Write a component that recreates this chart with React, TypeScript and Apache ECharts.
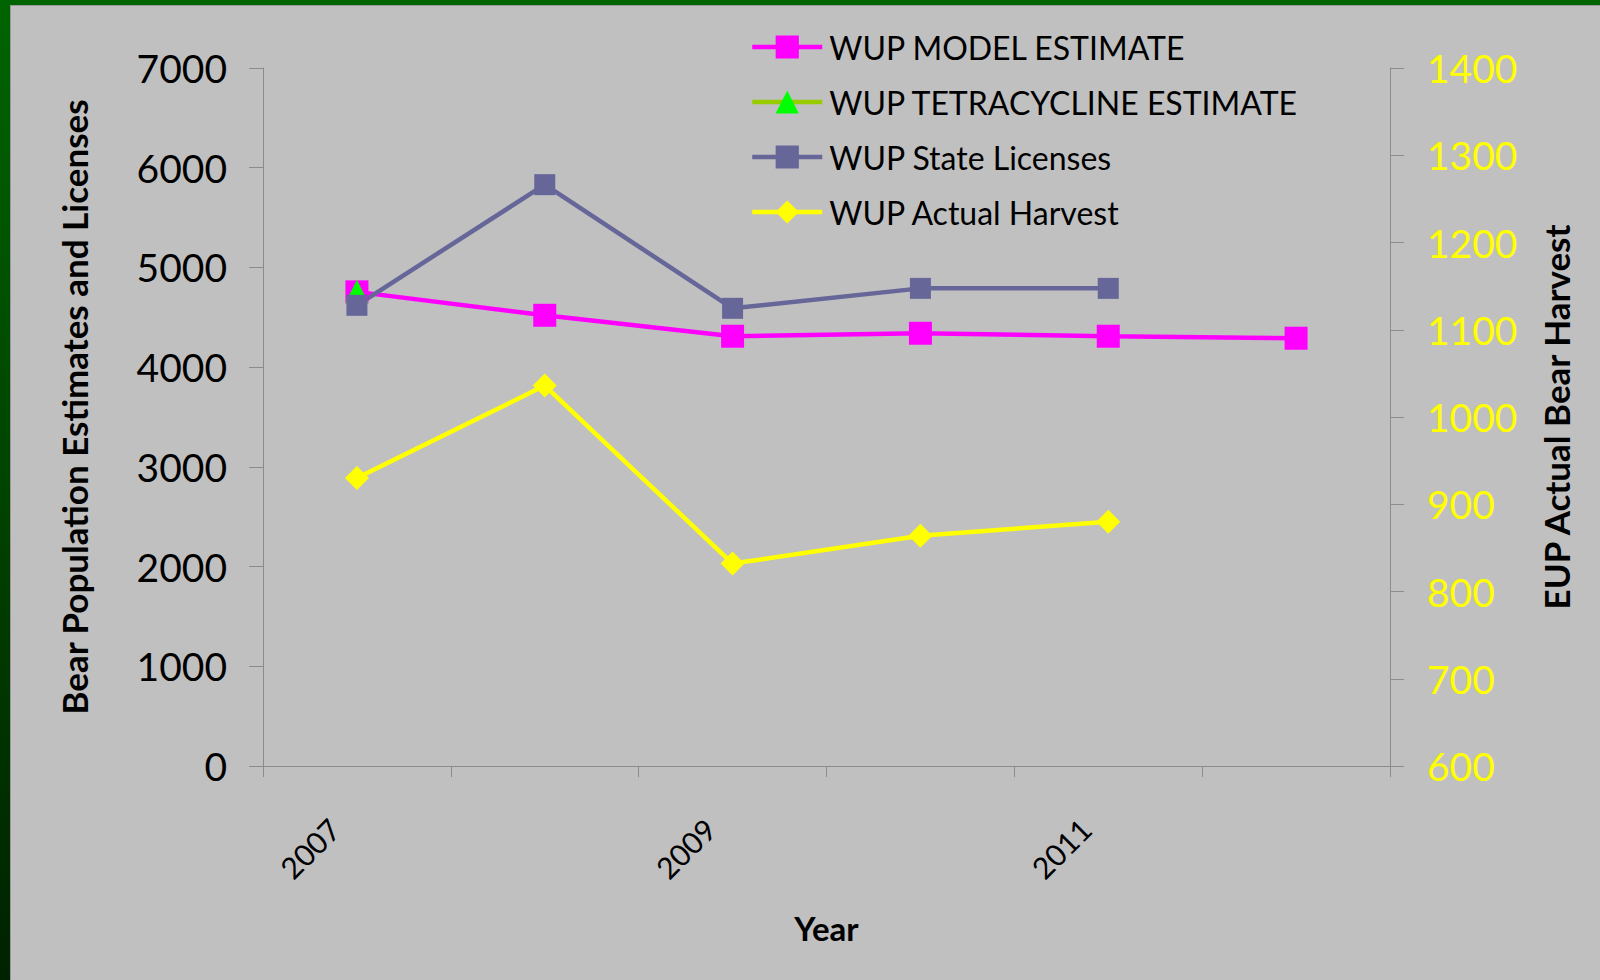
import React, { useEffect, useRef } from "react";
import * as echarts from "echarts";

const years = ["2007", "2008", "2009", "2010", "2011", "2012"];
const modelEstimate = [4755, 4520, 4310, 4340, 4310, 4290];
const tetracyclineEstimate = [4760, null, null, null, null, null];
const stateLicenses = [4620, 5830, 4590, 4790, 4790, null];
const actualHarvest = [930, 1036, 832, 864, 880, null];

const leftTicks = { min: 0, max: 7000, interval: 1000 };
const rightTicks = { min: 600, max: 1400, interval: 100 };

const FONT = "Lato";

export default function App() {
  const ref = useRef<HTMLDivElement>(null);
  useEffect(() => {
    if (!ref.current) return;
    const chart = echarts.init(ref.current, undefined, { renderer: "svg" });
    const axisColor = "#8c8c8c";
    const plain = (v: number) => String(v);
    chart.setOption({
      animation: false,
      backgroundColor: "#c0c0c0",
      textStyle: { fontFamily: FONT },
      graphic: [
        {
          type: "rect",
          shape: { x: 0, y: 0, width: 10, height: 980 },
          style: {
            fill: new echarts.graphic.LinearGradient(0, 0, 0, 1, [
              { offset: 0, color: "#006400" },
              { offset: 1, color: "#002200" },
            ]),
          },
          silent: true,
        },
        {
          type: "rect",
          shape: { x: 0, y: 0, width: 1600, height: 5 },
          style: { fill: "#006400" },
          silent: true,
        },
        {
          type: "line",
          shape: { x1: 10.5, y1: 5, x2: 10.5, y2: 980 },
          style: { stroke: "#999999", lineWidth: 1 },
          silent: true,
        },
        {
          type: "line",
          shape: { x1: 10, y1: 5.5, x2: 1600, y2: 5.5 },
          style: { stroke: "#999999", lineWidth: 1 },
          silent: true,
        },
      ],
      grid: { left: 263, right: 210, top: 68, bottom: 214, containLabel: false },
      legend: {
        orient: "vertical",
        left: 745,
        top: 26,
        itemWidth: 70,
        itemHeight: 29,
        itemGap: 23,
        lineStyle: { width: 4.5 },
        textStyle: {
          fontFamily: FONT,
          fontSize: 32,
          lineHeight: 29,
          color: "#000",
          padding: [0, 0, 0, 2],
        },
        data: [
          "WUP MODEL ESTIMATE",
          "WUP TETRACYCLINE ESTIMATE",
          "WUP State Licenses",
          "WUP Actual Harvest",
        ],
      },
      xAxis: {
        type: "category",
        data: years,
        boundaryGap: true,
        name: "Year",
        nameLocation: "middle",
        nameGap: 145,
        nameTextStyle: { fontFamily: FONT, fontSize: 33, fontWeight: "bold", color: "#000" },
        axisLine: { show: true, lineStyle: { color: axisColor, width: 1 } },
        axisTick: { show: true, interval: 0, length: 11, lineStyle: { color: axisColor } },
        axisLabel: {
          interval: 1,
          rotate: 45,
          margin: 35,
          padding: [0, 32, 0, 0],
          fontFamily: FONT,
          fontSize: 30,
          color: "#000",
        },
        splitLine: { show: false },
      },
      yAxis: [
        {
          type: "value",
          position: "left",
          min: leftTicks.min,
          max: leftTicks.max,
          interval: leftTicks.interval,
          name: "Bear Population Estimates and Licenses",
          nameLocation: "middle",
          nameRotate: 90,
          nameGap: 172,
          nameTextStyle: {
            fontFamily: FONT,
            fontSize: 35,
            fontWeight: "bold",
            color: "#000",
            padding: [0, 0, 0, 20],
          },
          axisLine: { show: true, lineStyle: { color: axisColor, width: 1 } },
          axisTick: { show: true, length: 14, lineStyle: { color: axisColor } },
          axisLabel: { margin: 36, fontFamily: FONT, fontSize: 39, color: "#000", formatter: plain },
          splitLine: { show: false },
        },
        {
          type: "value",
          position: "right",
          min: rightTicks.min,
          max: rightTicks.max,
          interval: rightTicks.interval,
          name: "EUP Actual Bear Harvest",
          nameLocation: "middle",
          nameRotate: 90,
          nameGap: 148,
          nameTextStyle: { fontFamily: FONT, fontSize: 35, fontWeight: "bold", color: "#000" },
          axisLine: { show: true, lineStyle: { color: axisColor, width: 1 } },
          axisTick: { show: true, length: 14, lineStyle: { color: axisColor } },
          axisLabel: { margin: 37, fontFamily: FONT, fontSize: 39, color: "#ffff00", formatter: plain },
          splitLine: { show: false },
        },
      ],
      series: [
        {
          name: "WUP MODEL ESTIMATE",
          type: "line",
          yAxisIndex: 0,
          data: modelEstimate,
          symbol: "rect",
          symbolSize: 23,
          lineStyle: { color: "#ff00ff", width: 4.5 },
          itemStyle: { color: "#ff00ff", borderWidth: 0 },
        },
        {
          name: "WUP TETRACYCLINE ESTIMATE",
          type: "line",
          yAxisIndex: 0,
          data: tetracyclineEstimate,
          symbol: "triangle",
          symbolSize: 23,
          lineStyle: { color: "#99cc00", width: 4.5 },
          itemStyle: { color: "#00ff00", borderWidth: 0 },
        },
        {
          name: "WUP State Licenses",
          type: "line",
          yAxisIndex: 0,
          data: stateLicenses,
          symbol: "rect",
          symbolSize: 21,
          lineStyle: { color: "#666699", width: 4.5 },
          itemStyle: { color: "#666699", borderWidth: 0 },
        },
        {
          name: "WUP Actual Harvest",
          type: "line",
          yAxisIndex: 1,
          data: actualHarvest,
          symbol: "diamond",
          symbolSize: 24,
          lineStyle: { color: "#ffff00", width: 4.5 },
          itemStyle: { color: "#ffff00", borderWidth: 0 },
        },
      ],
    });
    return () => chart.dispose();
  }, []);
  return (
    <div
      ref={ref}
      style={{ position: "absolute", left: 0, top: 0, width: 1600, height: 980 }}
    />
  );
}
